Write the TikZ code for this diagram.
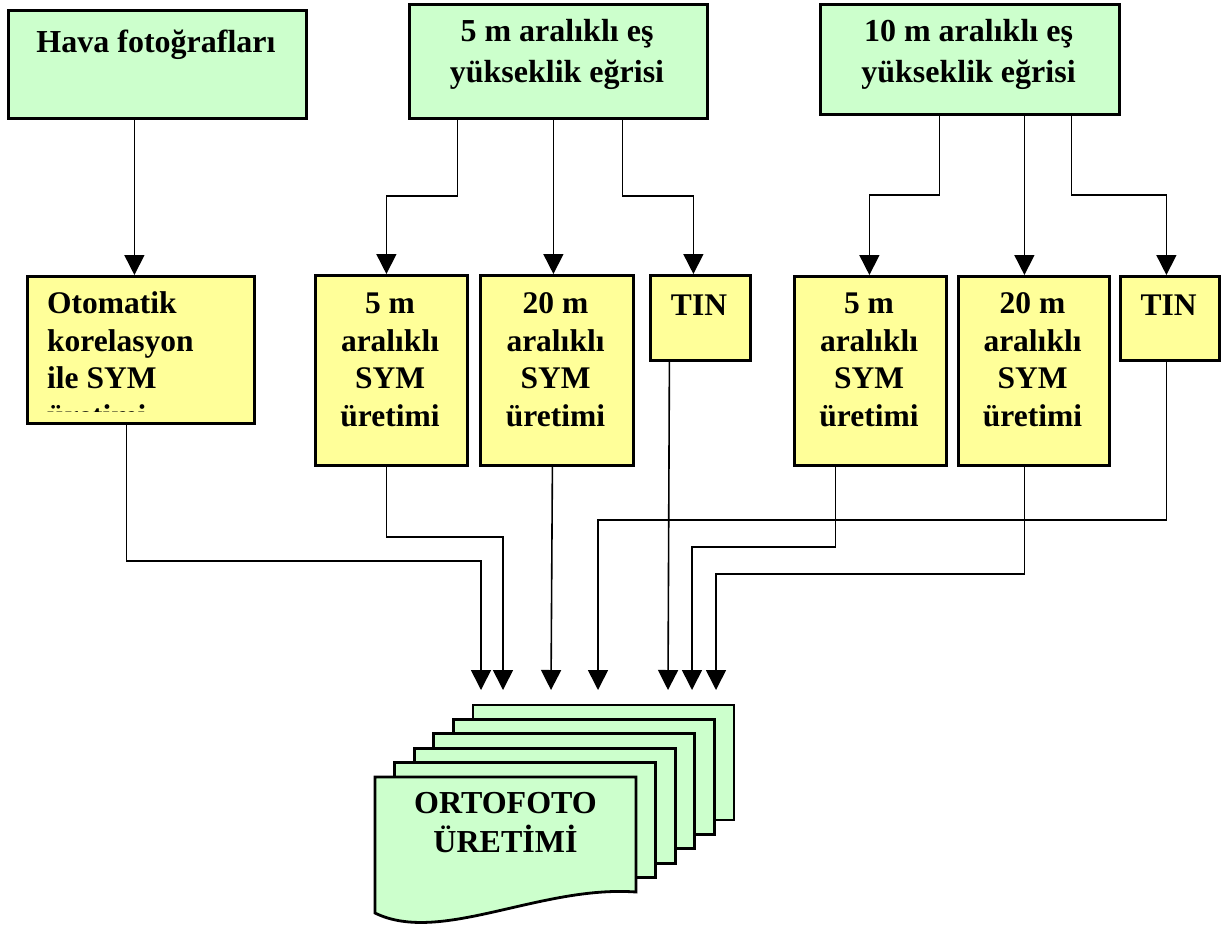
\documentclass[tikz,border=0pt]{standalone}
\usepackage{fontspec}
\setmainfont{Liberation Serif}
\usetikzlibrary{arrows.meta}
\definecolor{boxgreen}{HTML}{CCFFCC}
\definecolor{boxyellow}{HTML}{FFFF99}
\begin{document}
\begin{tikzpicture}[x=1pt,y=-1pt,
  gbox/.style={draw, line width=2.8pt, fill=boxgreen, inner sep=0pt, anchor=north west},
  ybox/.style={draw, line width=2.8pt, fill=boxyellow, inner sep=0pt, anchor=north west},
  bigtxt/.style={font=\fontsize{32}{41}\selectfont\bfseries, align=center, inner sep=0pt, anchor=base},
  midtxt/.style={font=\fontsize{31.5}{37.5}\selectfont\bfseries, align=center, inner sep=0pt, anchor=base},
  conn/.style={line width=1.6pt},
  arr/.style={conn, -{Triangle[length=20pt,width=20pt]}},
  page/.style={draw, line width=2.8pt, fill=boxgreen, line join=miter}
]
\useasboundingbox (0,0) rectangle (1224,927);

% top boxes
\node[gbox, minimum width=298pt, minimum height=108pt] (hava) at (7,9) {};
\node[bigtxt] (havat) at (156,52) {Hava fotoğrafları};
\node[gbox, minimum width=298pt, minimum height=114pt] (c5) at (408,3) {};
\node[bigtxt] (c5t) at (557,82) {5 m aralıklı eş\\yükseklik eğrisi};
\node[gbox, minimum width=299pt, minimum height=110pt] (c10) at (819,3) {};
\node[bigtxt] (c10t) at (968.5,82) {10 m aralıklı eş\\yükseklik eğrisi};

% yellow boxes
\node[ybox, minimum width=227pt, minimum height=147pt] (oto) at (26,275) {};
\begin{scope}
  \clip (26,275) rectangle (253,411);
  \node[midtxt, align=left, anchor=base west] (otot) at (47,426) {Otomatik\\korelasyon\\ile SYM\\üretimi};
\end{scope}
\node[ybox, minimum width=152pt, minimum height=190pt] (s5a) at (314,274) {};
\node[midtxt] (s5at) at (390,426) {5 m\\aralıklı\\SYM\\üretimi};
\node[ybox, minimum width=153pt, minimum height=190pt] (s20a) at (479,274) {};
\node[midtxt] (s20at) at (555.5,426) {20 m\\aralıklı\\SYM\\üretimi};
\node[ybox, minimum width=100pt, minimum height=85pt] (tin1) at (649,274) {};
\node[midtxt] (tin1t) at (699,315) {TIN};
\node[ybox, minimum width=152pt, minimum height=189pt] (s5b) at (793,275) {};
\node[midtxt] (s5bt) at (869,426) {5 m\\aralıklı\\SYM\\üretimi};
\node[ybox, minimum width=151pt, minimum height=189pt] (s20b) at (957,275) {};
\node[midtxt] (s20bt) at (1032.5,426) {20 m\\aralıklı\\SYM\\üretimi};
\node[ybox, minimum width=99pt, minimum height=84pt] (tin2) at (1119,275) {};
\node[midtxt] (tin2t) at (1168.5,315) {TIN};

% multi-document
\foreach \i in {5,4,3,2,1} {
  \path[page] ({375+19.6*\i},{777-14.4*\i}) rectangle ++(261,115);
}
\path[page] (375,777) -- (636,777) -- (636,892) .. controls (540,885) and (440,945) .. (375,913) -- cycle;
\node[font=\fontsize{32}{39}\selectfont\bfseries, align=center, inner sep=0pt, anchor=base] (orto) at (505.5,852) {ORTOFOTO\\ÜRETİMİ};

% arrow ends above the document
\coordinate (e1) at (481,690);
\coordinate (e2) at (503,690);
\coordinate (e3) at (551,690);
\coordinate (e4) at (598,690);
\coordinate (e5) at (668,690);
\coordinate (e6) at (692,690);
\coordinate (e7) at (716,690);

% top connectors
\draw[arr] ([xshift=-23pt]hava.south) -- ([xshift=-23pt]hava.south |- oto.north);
\draw[arr] ([xshift=-101pt]c5.south) -- ++(0,76) -| ([xshift=-5pt]s5a.north);
\draw[arr] ([xshift=-5pt]c5.south) -- ([xshift=-5pt]c5.south |- s20a.north);
\draw[arr] ([xshift=64pt]c5.south) -- ++(0,76) -| ([xshift=-7pt]tin1.north);
\draw[arr] ([xshift=-30.5pt]c10.south) -- ++(0,79) -| ([xshift=-1pt]s5b.north);
\draw[arr] ([xshift=54.5pt]c10.south) -- ([xshift=54.5pt]c10.south |- s20b.north);
\draw[arr] ([xshift=101.5pt]c10.south) -- ++(0,79) -| ([xshift=-3.5pt]tin2.north);

% bottom connectors
\draw[arr] ([xshift=-14.5pt]oto.south) -- ++(0,136) -| (e1);
\draw[arr] ([xshift=-5pt]s5a.south) -- ++(0,70) -| (e2);
\draw[arr] ([xshift=-4.5pt]s20a.south) -- (e3);
\draw[arr] ([xshift=-3.5pt]tin2.south) -- ++(0,158) -| (e4);
\draw[arr] ([xshift=-31pt]tin1.south) -- (e5);
\draw[arr] ([xshift=-35pt]s5b.south) -- ++(0,80) -| (e6);
\draw[arr] ([xshift=-9.5pt]s20b.south) -- ++(0,107) -| (e7);
\end{tikzpicture}
\end{document}
